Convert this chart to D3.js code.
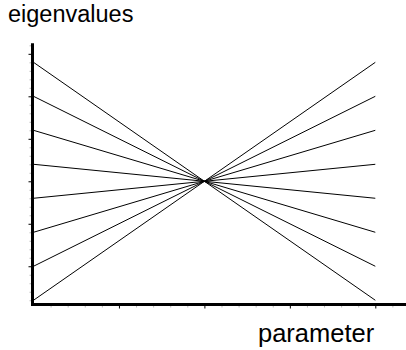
<!DOCTYPE html>
<html>
<head>
<meta charset="utf-8">
<script src="https://cdn.jsdelivr.net/npm/d3@7"></script>
<style>
  html, body { margin: 0; padding: 0; background: #fff; }
  svg { display: block; }
  text { font-family: "Liberation Sans", Arial, sans-serif; fill: #000; }
</style>
</head>
<body>
<script>
// ---- data ----
const params = [0, 2, 4];                       // parameter values of each line's points
const leftValues  = [2.8, 2.0, 1.2, 0.4, -0.4, -1.2, -2.0, -2.8];
const crossValues = [0, 0, 0, 0, 0, 0, 0, 0];
const rightValues = [-2.8, -2.0, -1.2, -0.4, 0.4, 1.2, 2.0, 2.8];
const xMajorTicks = [1, 2, 3, 4];
const xMinorTicks = [0.2,0.4,0.6,0.8,1.2,1.4,1.6,1.8,2.2,2.4,2.6,2.8,3.2,3.4,3.6,3.8,4.2];
const yMajorTicks = [-2, -1, 0, 1, 2, 3];
const yMinorTicks = [-2.8,-2.6,-2.4,-2.2,-1.8,-1.6,-1.4,-1.2,-0.8,-0.6,-0.4,-0.2,0.2,0.4,0.6,0.8,1.2,1.4,1.6,1.8,2.2,2.4,2.6,2.8,3.2];
const yLabel = "eigenvalues";
const xLabel = "parameter";

// ---- drawing ----
const W = 406, H = 350;
const svg = d3.select("body").append("svg").attr("width", W).attr("height", H);

const x = d3.scaleLinear().domain([0, 4]).range([33.5, 375.3]);
const y = d3.scaleLinear().domain([-2.9, 3.25]).range([304.5, 43.2]);

const x0 = 32.5, yAxisPos = 304.5;

// minor ticks
svg.append("g")
  .attr("transform", `translate(0,${yAxisPos})`)
  .call(d3.axisBottom(x).tickValues(xMinorTicks).tickSize(3).tickFormat(""))
  .call(g => g.select(".domain").remove())
  .call(g => g.selectAll("line").attr("stroke", "#bbb"));
svg.append("g")
  .attr("transform", `translate(${x0},0)`)
  .call(d3.axisLeft(y).tickValues(yMinorTicks).tickSize(3).tickFormat(""))
  .call(g => g.select(".domain").remove())
  .call(g => g.selectAll("line").attr("stroke", "#bbb"));
// major ticks
svg.append("g")
  .attr("transform", `translate(0,${yAxisPos})`)
  .call(d3.axisBottom(x).tickValues(xMajorTicks).tickSize(4).tickFormat(""))
  .call(g => g.select(".domain").remove())
  .call(g => g.selectAll("line").attr("stroke", "#000"));
svg.append("g")
  .attr("transform", `translate(${x0},0)`)
  .call(d3.axisLeft(y).tickValues(yMajorTicks).tickSize(4).tickFormat(""))
  .call(g => g.select(".domain").remove())
  .call(g => g.selectAll("line").attr("stroke", "#000"));

// lines
const line = d3.line().x(d => x(d[0])).y(d => y(d[1]));
const series = leftValues.map((v, i) => [[params[0], v], [params[1], crossValues[i]], [params[2], rightValues[i]]]);
svg.append("g").selectAll("path").data(series).join("path")
  .attr("d", line)
  .attr("fill", "none")
  .attr("stroke", "#000")
  .attr("stroke-width", 1);

// axis lines (thick)
svg.append("line")
  .attr("x1", x0).attr("x2", x0)
  .attr("y1", y(3.25)).attr("y2", yAxisPos + 1.5)
  .attr("stroke", "#000").attr("stroke-width", 3);
svg.append("line")
  .attr("x1", x0 - 1.5).attr("x2", W)
  .attr("y1", yAxisPos).attr("y2", yAxisPos)
  .attr("stroke", "#000").attr("stroke-width", 3);

// labels
svg.append("text").attr("x", 8).attr("y", 22).attr("font-size", 23.5).text(yLabel);
svg.append("text").attr("x", 258).attr("y", 342).attr("font-size", 25.5).text(xLabel);
</script>
</body>
</html>
